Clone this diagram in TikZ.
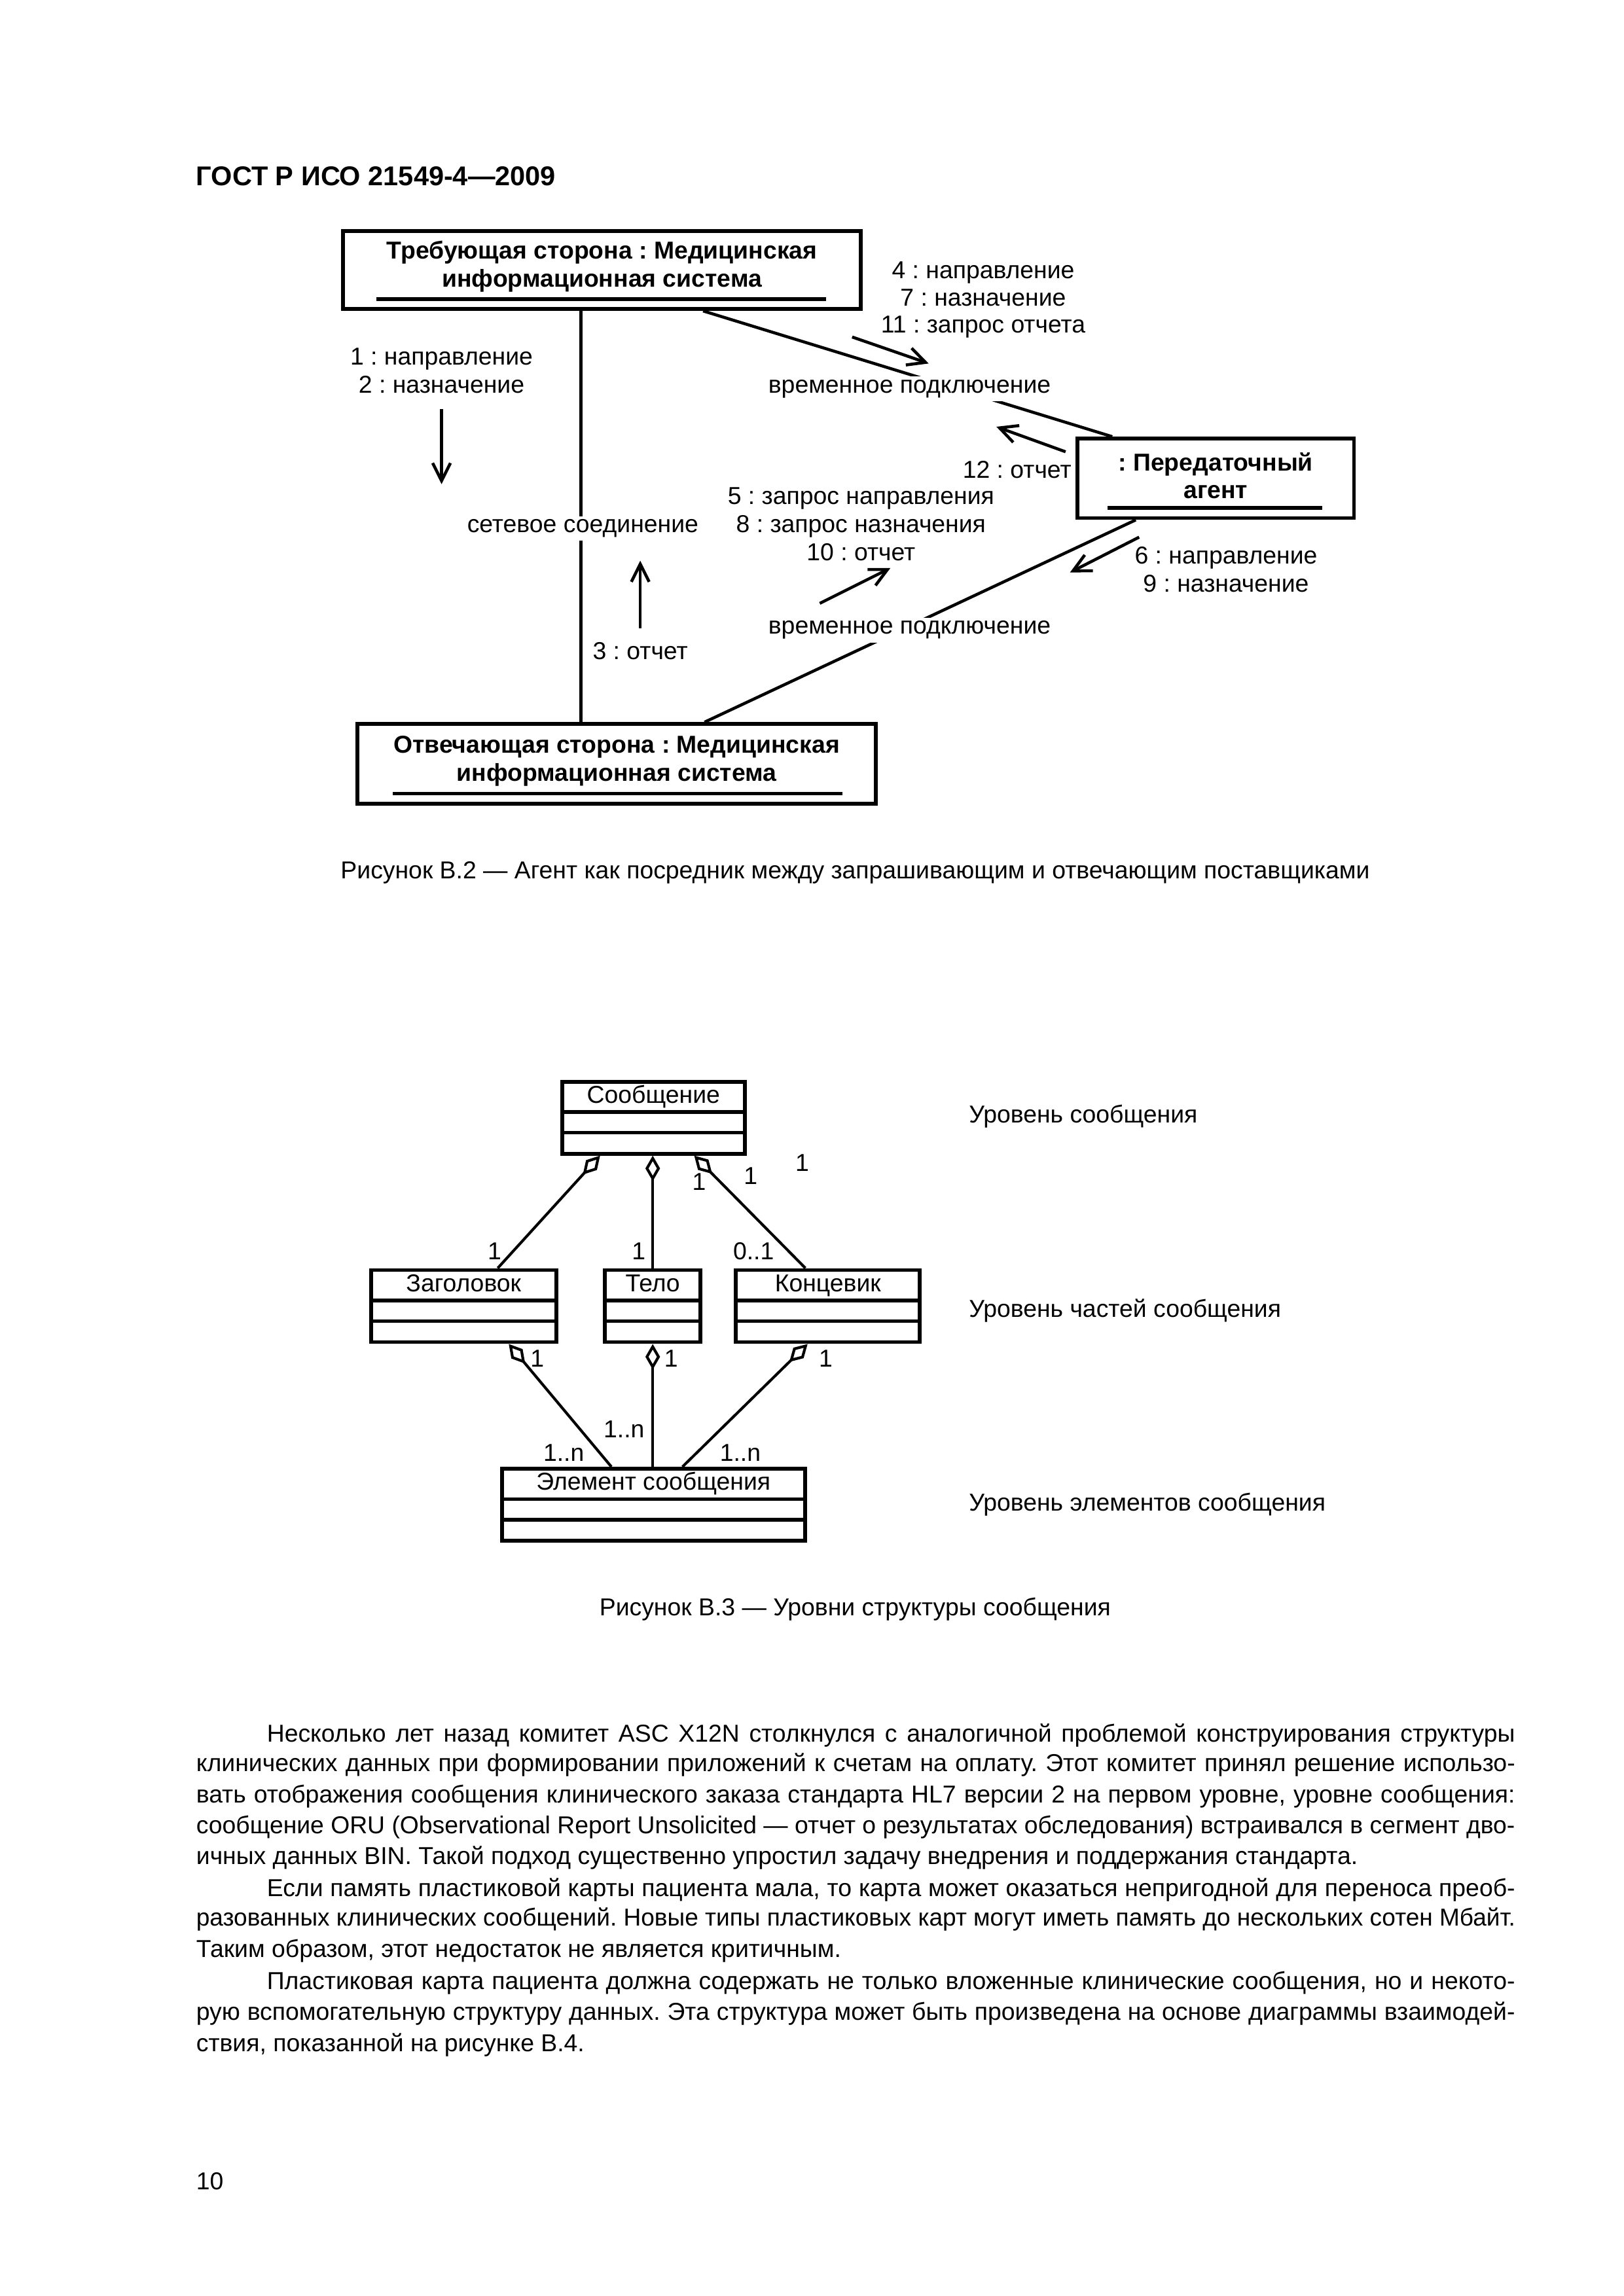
\documentclass[tikz,border=0pt]{standalone}
\usepackage{fontspec}
\setmainfont{Liberation Sans}
\usepackage{graphicx}
\usetikzlibrary{arrows.meta,calc}
\frenchspacing
\def\UU{0.19039mm}
\newcommand\lblfont{\fontsize{9}{10.1}\selectfont}
\newcommand\boldlblfont{\fontsize{9}{10.3}\selectfont\bfseries}
\newcommand\hdrfont{\fontsize{10}{12}\selectfont\bfseries}
\newcommand\bodyfont{\fontsize{9}{11}\selectfont}
\newlength\fullw \setlength\fullw{170.59mm}
\newlength\indw \setlength\indw{161.45mm}
\newsavebox\jlbox
\newcommand\jline[2]{\sbox\jlbox{#2}\ifdim\wd\jlbox>#1\relax\resizebox{#1}{\ht\jlbox}{\usebox\jlbox}\else\makebox[#1][s]{#2}\fi}
\tikzset{
  objbox/.style={draw, line width=1.4pt, inner sep=0pt},
  objtitle/.style={font=\boldlblfont, anchor=mid, inner sep=0pt},
  lbl/.style={font=\lblfont, anchor=mid, inner sep=0pt},
  gaplbl/.style={font=\lblfont, anchor=mid, fill=white, inner sep=1.2pt},
  conn/.style={line width=1.1pt},
  msg/.style={line width=1.1pt, -{Straight Barb[length=2.3mm,width=2.3mm]}},
  uline/.style={line width=1.4pt},
  cls/.style={draw, line width=1.4pt, inner sep=0pt},
  clsline/.style={line width=1.3pt},
  agg/.style={line width=1.0pt, {Diamond[open,length=3.3mm,width=1.9mm]}-},
  bodytxt/.style={font=\bodyfont, anchor=mid west, inner sep=0pt},
}
\newcommand\classbox[6]{%
  \node[cls, minimum width={(#3-#2)*\UU}, minimum height={(#5-#4)*\UU}] (#1) at ({(#2+#3)/2},{(#4+#5)/2}) {};
  \draw[clsline] ($(#1.north west)+(0,22)$) -- ($(#1.north east)+(0,22)$);
  \draw[clsline] ($(#1.north west)+(0,36)$) -- ($(#1.north east)+(0,36)$);
  \node[lbl] (#1-t) at ($(#1.north)+(0,11)$) {#6};
}
\begin{document}
\begin{tikzpicture}[x=0.19039mm,y=-0.19039mm]
\fill[white] (0,0) rectangle (1103,1560.2);
\useasboundingbox (0,0) rectangle (1103,1560.2);

% header
\node[font=\hdrfont, anchor=mid west, inner sep=0pt] (hdr) at (133,121) {ГОСТ Р ИСО 21549-4—2009};

% ---------- Figure B.2 ----------
\node[objbox, minimum width={352*\UU}, minimum height={53*\UU}] (A) at (409,183.5) {};
\node[objtitle] (A1) at (409,171) {Требующая сторона : Медицинская};
\node[objtitle] (A2) at (409,190) {информационная система};
\draw[uline] ($(A.south west)+(24,-8)$) -- ($(A.south east)+(-25,-8)$);

\node[objbox, minimum width={188*\UU}, minimum height={54*\UU}] (B) at (826,325) {};
\node[objtitle] (B1) at (826,315) {: Передаточный};
\node[objtitle] (B2) at (826,334) {агент};
\draw[uline] ($(B.south west)+(22,-8)$) -- ($(B.south east)+(-23,-8)$);

\node[objbox, minimum width={352*\UU}, minimum height={54*\UU}] (C) at (419,519) {};
\node[objtitle] (C1) at (419,507) {Отвечающая сторона : Медицинская};
\node[objtitle] (C2) at (419,526) {информационная система};
\draw[uline] ($(C.south west)+(25,-8)$) -- ($(C.south east)+(-24,-8)$);

% links
\draw[conn] ($(A.south west)+(163,0)$) -- ($(C.north west)+(153,0)$);
\draw[conn] ($(A.south west)+(246,0)$) -- ($(B.north west)+(25,0)$);
\draw[conn] ($(B.south west)+(41,0)$) -- ($(C.north west)+(237,0)$);
\node[gaplbl] (net) at (396,357) {сетевое соединение};
\node[gaplbl] (tmp1) at (618,262) {временное подключение};
\node[gaplbl] (tmp2) at (618,426) {временное подключение};

% messages
\coordinate (m1s) at (300,278); \coordinate (m1e) at (300,329);
\draw[msg] (m1s) -- (m1e);
\node[lbl] (l1) at (300,243) {1 : направление};
\node[lbl] (l2) at (300,262) {2 : назначение};

\coordinate (m3s) at (435,427); \coordinate (m3e) at (435,381);
\draw[msg] (m3s) -- (m3e);
\node[lbl] (l3) at (435,443) {3 : отчет};

\coordinate (m4s) at (579,229); \coordinate (m4e) at (631,247);
\draw[msg] (m4s) -- (m4e);
\node[lbl] (l4) at (668,184.5) {4 : направление};
\node[lbl] (l7) at (668,203) {7 : назначение};
\node[lbl] (l11) at (668,221.5) {11 : запрос отчета};

\coordinate (m12s) at (724,307); \coordinate (m12e) at (677,290);
\draw[msg] (m12s) -- (m12e);
\node[lbl] (l12) at (691,320) {12 : отчет};

\coordinate (m5s) at (557,410); \coordinate (m5e) at (605,386);
\draw[msg] (m5s) -- (m5e);
\node[lbl] (l5) at (585,338) {5 : запрос направления};
\node[lbl] (l8) at (585,357) {8 : запрос назначения};
\node[lbl] (l10) at (585,376) {10 : отчет};

\coordinate (m6s) at (774,365); \coordinate (m6e) at (727,389);
\draw[msg] (m6s) -- (m6e);
\node[lbl] (l6) at (833,378.5) {6 : направление};
\node[lbl] (l9) at (833,397.5) {9 : назначение};

\node[lbl] (cap1) at (581,592) {Рисунок В.2 — Агент как посредник между запрашивающим и отвечающим поставщиками};

% ---------- Figure B.3 ----------
\classbox{S}{382}{506}{735}{784}{Сообщение}
\classbox{Z}{252}{378}{863}{912}{Заголовок}
\classbox{T}{411}{476}{863}{912}{Тело}
\classbox{K}{500}{625}{863}{912}{Концевик}
\classbox{E}{341}{547}{998}{1047}{Элемент сообщения}

\draw[agg] ($(S.south west)+(27,0)$) -- ($(Z.north west)+(87.5,0)$);
\draw[agg] (T.north |- S.south) -- (T.north);
\draw[agg] ($(S.south west)+(91,0)$) -- ($(K.north west)+(48.5,0)$);
\draw[agg] ($(Z.south west)+(95,0)$) -- ($(E.north west)+(75.7,0)$);
\draw[agg] (T.south) -- (T.south |- E.north);
\draw[agg] ($(K.south west)+(50,0)$) -- ($(E.north west)+(124,0)$);

\node[lbl] (ms1) at (475,804) {1};
\node[lbl] (ms2) at (510,800) {1};
\node[lbl] (ms3) at (545,791) {1};
\node[lbl] (mz1) at (336,851) {1};
\node[lbl] (mt1) at (434,851) {1};
\node[lbl] (mk1) at (512,851) {0..1};
\node[lbl] (mz2) at (365,924) {1};
\node[lbl] (mt2) at (456,924) {1};
\node[lbl] (mk2) at (561,924) {1};
\node[lbl] (me2) at (424,972) {1..n};
\node[lbl] (me1) at (383,988) {1..n};
\node[lbl] (me3) at (503,988) {1..n};

\node[lbl, anchor=mid west] (lev1) at (658,758) {Уровень сообщения};
\node[lbl, anchor=mid west] (lev2) at (658,890) {Уровень частей сообщения};
\node[lbl, anchor=mid west] (lev3) at (658,1022) {Уровень элементов сообщения};

\node[lbl] (cap2) at (581,1093) {Рисунок В.3 — Уровни структуры сообщения};

% ---------- body text ----------
\node[bodytxt] (p1) at (181,1179) {\jline{\indw}{Несколько лет назад комитет ASC X12N столкнулся с аналогичной проблемой конструирования структуры}};
\node[bodytxt] (p2) at (133,1199) {\jline{\fullw}{клинических данных при формировании приложений к счетам на оплату. Этот комитет принял решение использо-}};
\node[bodytxt] (p3) at (133,1220) {\jline{\fullw}{вать отображения сообщения клинического заказа стандарта HL7 версии 2 на первом уровне, уровне сообщения:}};
\node[bodytxt] (p4) at (133,1241) {\jline{\fullw}{сообщение ORU (Observational Report Unsolicited — отчет о результатах обследования) встраивался в сегмент дво-}};
\node[bodytxt] (p5) at (133,1262) {ичных данных BIN. Такой подход существенно упростил задачу внедрения и поддержания стандарта.};
\node[bodytxt] (p6) at (181,1284) {\jline{\indw}{Если память пластиковой карты пациента мала, то карта может оказаться непригодной для переноса преоб-}};
\node[bodytxt] (p7) at (133,1304) {\jline{\fullw}{разованных клинических сообщений. Новые типы пластиковых карт могут иметь память до нескольких сотен Мбайт.}};
\node[bodytxt] (p8) at (133,1325) {Таким образом, этот недостаток не является критичным.};
\node[bodytxt] (p9) at (181,1347) {\jline{\indw}{Пластиковая карта пациента должна содержать не только вложенные клинические сообщения, но и некото-}};
\node[bodytxt] (p10) at (133,1368) {\jline{\fullw}{рую вспомогательную структуру данных. Эта структура может быть произведена на основе диаграммы взаимодей-}};
\node[bodytxt] (p11) at (133,1389) {ствия, показанной на рисунке В.4.};

\node[bodytxt] (pg) at (133,1483) {10};
\end{tikzpicture}
\end{document}
